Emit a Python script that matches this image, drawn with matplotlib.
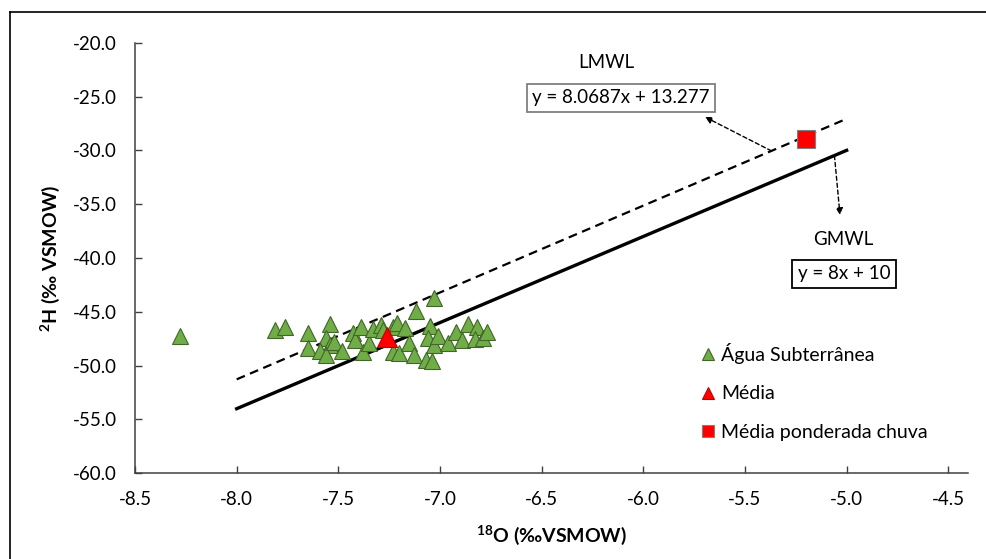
import matplotlib
matplotlib.use('Agg')

import matplotlib.pyplot as plt
import numpy as np
from matplotlib.lines import Line2D

plt.rcParams['font.family'] = ['Lato', 'DejaVu Sans']
plt.rcParams['mathtext.fontset'] = 'custom'
plt.rcParams['mathtext.rm'] = 'Lato'
plt.rcParams['mathtext.bf'] = 'Lato:bold'

# groundwater samples (d18O, d2H)
agua_d18o = [-8.28, -7.81, -7.76, -7.65, -7.65, -7.54, -7.56, -7.54, -7.59, -7.56,
             -7.52, -7.48, -7.43, -7.42, -7.39, -7.38, -7.35, -7.33, -7.29, -7.28,
             -7.23, -7.21, -7.23, -7.20, -7.17, -7.15, -7.13, -7.12, -7.03, -7.05,
             -7.06, -7.03, -7.07, -7.04, -7.01, -6.96, -6.92, -6.89, -6.86, -6.82,
             -6.83, -6.79, -6.77]
agua_d2h = [-47.2, -46.7, -46.4, -47.0, -48.4, -46.1, -47.4, -48.1, -48.6, -49.0,
            -47.8, -48.6, -47.0, -47.6, -46.4, -48.7, -47.9, -46.6, -46.2, -46.7,
            -46.4, -46.0, -48.7, -48.8, -46.5, -47.9, -49.0, -44.9, -43.7, -46.3,
            -47.4, -48.1, -49.5, -49.6, -47.2, -47.9, -46.9, -47.6, -46.1, -46.4,
            -47.5, -47.4, -46.9]

media = (-7.26, -47.3)
media_chuva = (-5.20, -28.9)

# meteoric water lines: slope, intercept, x range
lmwl = (8.0687, 13.277)
gmwl = (8.0, 10.0)
line_x = [-8.0, -5.0]

xticks = [-8.5, -8.0, -7.5, -7.0, -6.5, -6.0, -5.5, -5.0, -4.5]
yticks = [-60, -55, -50, -45, -40, -35, -30, -25, -20]

W, H = 986, 559
fig = plt.figure(figsize=(W / 100, H / 100), dpi=100)
ax = fig.add_axes([135 / W, 1 - 473.3 / H, (968 - 135) / W, (473.3 - 42.7) / H])

# outer frame (left and top edges)
fig.add_artist(Line2D([10 / W, 10 / W], [0, 1 - 12 / H], transform=fig.transFigure, color='black', lw=1.2))
fig.add_artist(Line2D([10 / W, 1], [1 - 12 / H, 1 - 12 / H], transform=fig.transFigure, color='black', lw=1.2))

lx = np.array(line_x)
ax.plot(lx, lmwl[0] * lx + lmwl[1], color='black', lw=1.6, ls=(0, (4, 2.5)), zorder=2)
ax.plot(lx, gmwl[0] * lx + gmwl[1], color='black', lw=2.4, zorder=2)

ax.plot(agua_d18o, agua_d2h, ls='none', marker='^', ms=11.5, mfc='#70AD47', mec='#41652a', mew=0.8, zorder=3)
ax.plot(*media, ls='none', marker='^', ms=15, mfc='#FF0000', mec='#c00000', mew=0.8, zorder=4)
ax.plot(*media_chuva, ls='none', marker='s', ms=13, mfc='#FF0000', mec='#7f7f7f', mew=0.8, zorder=4)

ax.set_xlim(-8.5, -4.5 + 19.7 / 203.3)
ax.set_ylim(-60, -20)
ax.set_xticks(xticks)
ax.set_yticks(yticks)
ax.set_xticklabels([f'{v:.1f}' for v in xticks])
ax.set_yticklabels([f'{v:.1f}' for v in yticks])
ax.tick_params(axis='both', direction='in', length=5, width=1, labelsize=13.5, color='#404040')
ax.tick_params(axis='x', pad=13)
ax.tick_params(axis='y', pad=13)
for s in ['top', 'right']:
    ax.spines[s].set_visible(False)
for s in ['left', 'bottom']:
    ax.spines[s].set_color('#404040')
    ax.spines[s].set_linewidth(1.1)

fig.text(552 / W, 1 - 535 / H, r'$^{\mathbf{18}}$O (‰VSMOW)', ha='center', va='center', fontsize=14, fontweight='bold')
fig.text(50 / W, 1 - 258 / H, r'$^{\mathbf{2}}$H (‰ VSMOW)', ha='center', va='center', rotation=90, fontsize=14, fontweight='bold')

# line labels and equations
fig.text(606 / W, 1 - 63 / H, 'LMWL', ha='center', va='center', fontsize=13.5)
fig.text(621 / W, 1 - 98 / H, 'y = 8.0687x + 13.277', ha='center', va='center', fontsize=13.5,
         bbox=dict(boxstyle='square,pad=0.3', fc='white', ec='#808080', lw=1.3))
fig.text(843 / W, 1 - 240 / H, 'GMWL', ha='center', va='center', fontsize=13.5)
fig.text(844 / W, 1 - 274 / H, 'y = 8x + 10', ha='center', va='center', fontsize=13.5,
         bbox=dict(boxstyle='square,pad=0.3', fc='white', ec='black', lw=1.3))

arrow = dict(arrowstyle='-|>', color='black', lw=1.0, ls=(0, (3, 2)), mutation_scale=10, shrinkA=0, shrinkB=0)
x0 = -5.37
ax.annotate('', xy=(705 / W, 1 - 117 / H), xycoords='figure fraction',
            xytext=(x0, lmwl[0] * x0 + lmwl[1]), textcoords='data', arrowprops=arrow)
x1 = -5.06
ax.annotate('', xy=(840 / W, 1 - 215 / H), xycoords='figure fraction',
            xytext=(x1, gmwl[0] * x1 + gmwl[1]), textcoords='data', arrowprops=arrow)

handles = [
    Line2D([], [], ls='none', marker='^', ms=9, mfc='#70AD47', mec='#41652a', mew=0.8),
    Line2D([], [], ls='none', marker='^', ms=9, mfc='#FF0000', mec='#c00000', mew=0.8),
    Line2D([], [], ls='none', marker='s', ms=9, mfc='#FF0000', mec='#7f7f7f', mew=0.8),
]
labels = ['Água Subterrânea', 'Média', 'Média ponderada chuva']
fig.legend(handles, labels, loc='upper left', bbox_to_anchor=(700 / W, 1 - 343 / H),
           frameon=False, fontsize=14, handlelength=0.8, handletextpad=0.3,
           labelspacing=1.1, borderpad=0, borderaxespad=0)

fig.savefig('out.png', dpi=100)
